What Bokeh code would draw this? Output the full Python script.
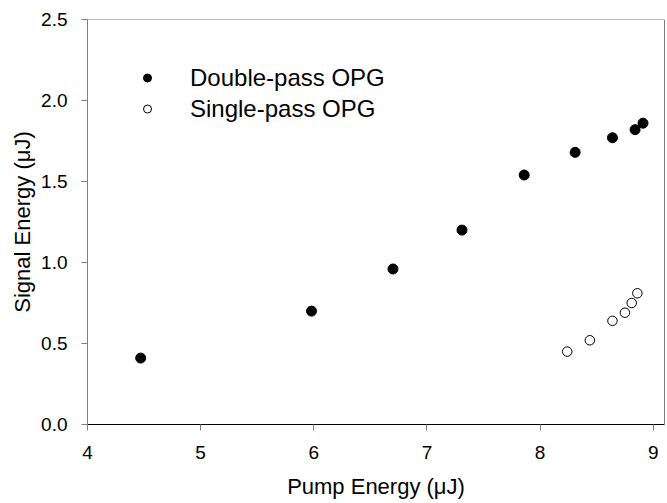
from bokeh.plotting import figure
from bokeh.models import Range1d, Span, Legend, LegendItem, FixedTicker
from bokeh.embed import file_html
from bokeh.resources import INLINE

# Data
double_x = [4.47, 5.98, 6.70, 7.31, 7.86, 8.31, 8.64, 8.84, 8.91]
double_y = [0.41, 0.70, 0.96, 1.20, 1.54, 1.68, 1.77, 1.82, 1.86]
single_x = [8.24, 8.44, 8.64, 8.75, 8.81, 8.86]
single_y = [0.45, 0.52, 0.64, 0.69, 0.75, 0.81]
x_ticks = [4, 5, 6, 7, 8, 9]
y_ticks = [0.0, 0.5, 1.0, 1.5, 2.0, 2.5]
y_tick_labels = {0.0: "0.0", 0.5: "0.5", 1.0: "1.0", 1.5: "1.5", 2.0: "2.0", 2.5: "2.5"}

FONT = "Liberation Sans"
GREY = "#808080"

p = figure(width=667, height=503, output_backend="svg", toolbar_location=None,
           x_range=Range1d(4, 9.1), y_range=Range1d(0, 2.5),
           min_border_left=87, min_border_right=3, min_border_top=19, min_border_bottom=79)
p.outline_line_color = None
p.grid.visible = False
p.background_fill_color = "white"
p.border_fill_color = "white"

p.xaxis.ticker = FixedTicker(ticks=x_ticks)
p.yaxis.ticker = FixedTicker(ticks=y_ticks)
p.yaxis.major_label_overrides = y_tick_labels
for ax in (p.xaxis[0], p.yaxis[0]):
    ax.minor_tick_line_color = None
    ax.major_tick_in = 0
    ax.major_tick_out = 6
    ax.major_tick_line_color = GREY
    ax.major_label_text_font = FONT
    ax.major_label_text_font_size = "19px"
    ax.major_label_text_color = "black"
    ax.axis_label_text_font = FONT
    ax.axis_label_text_font_size = "22px"
    ax.axis_label_text_font_style = "normal"
    ax.axis_label_text_color = "black"
p.xaxis.major_label_standoff = 15
p.yaxis.major_label_standoff = 14
p.xaxis.axis_line_color = "black"
p.yaxis.axis_line_color = GREY
p.xaxis.axis_label = "Pump Energy (μJ)"
p.yaxis.axis_label = "Signal Energy (μJ)"
p.xaxis.axis_label_standoff = 12
p.yaxis.axis_label_standoff = 3

top = Span(location=2.5, dimension="width", line_color=GREY, line_width=1)
right = Span(location=9.1, dimension="height", line_color="black", line_width=1)
p.add_layout(top)
p.add_layout(right)

r1 = p.scatter(double_x, double_y, size=10, marker="circle", fill_color="black", line_color="black")
r2 = p.scatter(single_x, single_y, size=9.5, marker="circle", fill_color="white", line_color="black", line_width=1)

legend = Legend(items=[LegendItem(label="Double-pass OPG", renderers=[r1]),
                       LegendItem(label="Single-pass OPG", renderers=[r2])],
                location=(50, 301), orientation="vertical",
                glyph_width=20, glyph_height=29, label_height=29, spacing=2,
                label_standoff=33, padding=0, margin=0,
                border_line_color=None, background_fill_alpha=0,
                label_text_font=FONT, label_text_font_size="24px", label_text_color="black")
p.add_layout(legend)

open("out.html", "w").write(file_html(p, INLINE))
